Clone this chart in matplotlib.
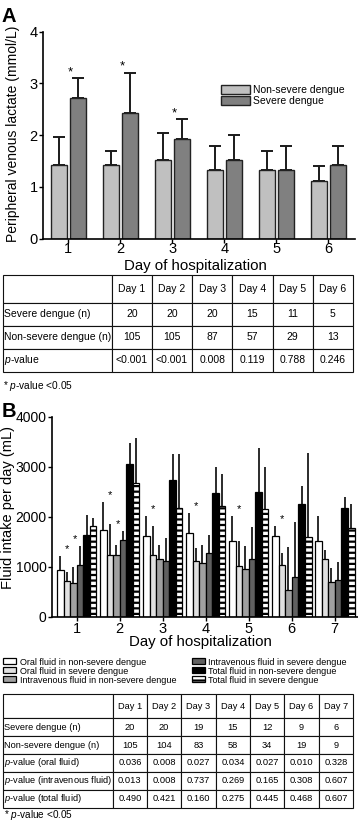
import matplotlib
matplotlib.use('Agg')
import matplotlib.pyplot as plt
import numpy as np

plt.rcParams['font.family'] = ['Liberation Sans', 'DejaVu Sans']
plt.rcParams['mathtext.fontset'] = 'custom'
plt.rcParams['mathtext.rm'] = 'Liberation Sans'
plt.rcParams['mathtext.it'] = 'Liberation Sans:italic'
plt.rcParams['hatch.linewidth'] = 1.6

# ---- panel A data: peripheral venous lactate (mmol/L)
days_a = [1, 2, 3, 4, 5, 6]
lact_ns = [1.43, 1.43, 1.53, 1.32, 1.32, 1.12]
lact_ns_top = [1.97, 1.70, 2.05, 1.80, 1.70, 1.41]   # upper end of error bar
lact_s = [2.72, 2.42, 1.93, 1.52, 1.32, 1.43]
lact_s_top = [3.10, 3.21, 2.31, 2.00, 1.80, 1.80]
n_sev_a = ['20', '20', '20', '15', '11', '5']
n_nonsev_a = ['105', '105', '87', '57', '29', '13']
p_a = ['<0.001', '<0.001', '0.008', '0.119', '0.788', '0.246']

# ---- panel B data: fluid intake per day (mL)
days_b = [1, 2, 3, 4, 5, 6, 7]
oral_ns = [930, 1730, 1610, 1680, 1520, 1610, 1510]
oral_ns_top = [1220, 2290, 2010, 2080, 2010, 1810, 2010]
oral_s = [710, 1230, 1230, 1120, 1010, 1030, 1150]
oral_s_top = [890, 1850, 1810, 1370, 1510, 1280, 1330]
iv_ns = [670, 1230, 1150, 1070, 960, 530, 690]
iv_ns_top = [1000, 1430, 1430, 1430, 1410, 1400, 970]
iv_s = [1030, 1530, 1120, 1270, 1160, 790, 730]
iv_s_top = [1410, 1720, 1570, 1630, 1800, 1900, 1100]
tot_ns = [1630, 3050, 2730, 2480, 2500, 2250, 2170]
tot_ns_top = [2030, 3470, 3260, 3000, 3370, 2610, 2390]
tot_s = [1810, 2670, 2170, 2220, 2150, 1590, 1780]
tot_s_top = [1970, 3580, 3260, 2850, 2990, 3280, 2250]
n_sev_b = ['20', '20', '19', '15', '12', '9', '6']
n_nonsev_b = ['105', '104', '83', '58', '34', '19', '9']
p_oral = ['0.036', '0.008', '0.027', '0.034', '0.027', '0.010', '0.328']
p_iv = ['0.013', '0.008', '0.737', '0.269', '0.165', '0.308', '0.607']
p_total = ['0.490', '0.421', '0.160', '0.275', '0.445', '0.468', '0.607']


def pnum(s):
    return float(s.lstrip('<'))


fig = plt.figure(figsize=(3.58, 8.21), dpi=100)
W, H = 358, 821


def px_rect(x0, y0, x1, y1):
    return [x0 / W, 1 - y1 / H, (x1 - x0) / W, (y1 - y0) / H]


# ================= panel A =================
ax = fig.add_axes(px_rect(42.7, 31.7, 355, 238.7))
xa = np.array(days_a)
bw = 0.308
off = 0.186
err_kw = dict(fmt='none', ecolor='#1a1a1a', elinewidth=1.4, capsize=4.5, capthick=1.4)
ax.bar(xa - off, lact_ns, bw, color='#c0c0c0', edgecolor='#222222', linewidth=1,
       label='Non-severe dengue', zorder=2)
ax.bar(xa + off, lact_s, bw, color='#808080', edgecolor='#222222', linewidth=1,
       label='Severe dengue', zorder=2)
ax.errorbar(xa - off, lact_ns, yerr=[np.zeros(6), np.array(lact_ns_top) - lact_ns], zorder=1, **err_kw)
ax.errorbar(xa + off, lact_s, yerr=[np.zeros(6), np.array(lact_s_top) - lact_s], zorder=1, **err_kw)
for d, p, top in zip(days_a, p_a, lact_s_top):
    if pnum(p) < 0.05:
        ax.text(d + 0.045, top + 0.052, '*', ha='center', va='baseline', fontsize=9.5)

ax.set_xlim(0.508, 6.513)
ax.set_ylim(0, 4)
ax.set_yticks([0, 1, 2, 3, 4])
ax.set_xticks(days_a)
for s in ['top', 'right']:
    ax.spines[s].set_visible(False)
for s in ['left', 'bottom']:
    ax.spines[s].set_linewidth(1.2)
ax.tick_params(axis='both', labelsize=10.5, length=3.2, width=1, pad=0.5)
ax.tick_params(axis='x', pad=-0.5)
ax.set_xlabel('Day of hospitalization', fontsize=10.8)
ax.set_ylabel('Peripheral venous lactate (mmol/L)', fontsize=10)
ax.xaxis.set_label_coords(0.489, -0.099)
ax.yaxis.set_label_coords(-0.0736, 0.505)
ax.legend(loc='upper left', bbox_to_anchor=(220.7 / W, 1 - 85.3 / H),
          bbox_transform=fig.transFigure, frameon=False, fontsize=7.5,
          borderpad=0, borderaxespad=0, handlelength=2.8, handleheight=0.9,
          handletextpad=0.3, labelspacing=0.05)

fig.text(1.7 / W, 1 - 21.7 / H, 'A', fontsize=14.5, fontweight='bold', va='baseline')
fig.text(1.7 / W, 1 - 416.7 / H, 'B', fontsize=14.5, fontweight='bold', va='baseline')


# ================= tables =================
def draw_table(rect, header, rows, fontsize, first_w, header_h):
    tax = fig.add_axes(rect)
    tax.axis('off')
    cells = [header] + rows
    ncol = len(header)
    widths = [first_w] + [(1 - first_w) / (ncol - 1)] * (ncol - 1)
    tbl = tax.table(cellText=cells, colWidths=widths, bbox=[0, 0, 1, 1], cellLoc='center')
    tbl.auto_set_font_size(False)
    tbl.set_fontsize(fontsize)
    body_h = (1 - header_h) / (len(cells) - 1)
    for (r, c), cell in tbl.get_celld().items():
        cell.set_height(header_h if r == 0 else body_h)
        cell.set_linewidth(0.8)
        cell.set_edgecolor('#111111')
        if c == 0:
            cell.set_text_props(ha='left')
            cell.PAD = 0.012
    return tbl


draw_table(px_rect(2.7, 275, 353, 371.7),
           [''] + ['Day %d' % d for d in days_a],
           [['Severe dengue (n)'] + n_sev_a,
            ['Non-severe dengue (n)'] + n_nonsev_a,
            ['$p$-value'] + p_a],
           7.5, 109 / 350.3, 0.29)
fig.text(2.7 / W, 1 - 386 / H, '* $p$-value <0.05', fontsize=7.3, va='center')

draw_table(px_rect(2.7, 694, 353, 807.5),
           [''] + ['Day %d' % d for d in days_b],
           [['Severe dengue (n)'] + n_sev_b,
            ['Non-severe dengue (n)'] + n_nonsev_b,
            ['$p$-value (oral fluid)'] + p_oral,
            ['$p$-value (intravenous fluid)'] + p_iv,
            ['$p$-value (total fluid)'] + p_total],
           6.7, 110 / 350.3, 0.215)
fig.text(4 / W, 1 - 817.5 / H, '* $p$-value <0.05', fontsize=7.2, va='baseline')

# ================= panel B =================
bx = fig.add_axes(px_rect(51.7, 416.7, 358, 616.7))
xb = np.array(days_b, dtype=float)
w = 0.153
series = [
    (oral_ns, oral_ns_top, 'white', None, 'Oral fluid in non-severe dengue'),
    (oral_s, oral_s_top, '#e0e0e0', None, 'Oral fluid in severe dengue'),
    (iv_ns, iv_ns_top, '#a0a0a0', None, 'Intravenous fluid in non-severe dengue'),
    (iv_s, iv_s_top, '#606060', None, 'Intravenous fluid in severe dengue'),
    (tot_ns, tot_ns_top, 'black', None, 'Total fluid in non-severe dengue'),
    (tot_s, tot_s_top, 'white', '---', 'Total fluid in severe dengue'),
]
handles = []
for i, (vals, tops, col, hatch, lab) in enumerate(series):
    pos = xb + (i - 2.5) * w
    h = bx.bar(pos, vals, w, color=col, edgecolor='black', linewidth=0.9,
               hatch=hatch, label=lab, zorder=2)
    handles.append(h)
    bx.errorbar(pos, vals, yerr=[np.zeros(len(vals)), np.array(tops) - np.array(vals)],
                fmt='none', ecolor='#1a1a1a', elinewidth=1.3, capsize=0, zorder=1)

for i, d in enumerate(days_b):
    if pnum(p_oral[i]) < 0.05:
        top = max(oral_ns_top[i], oral_s_top[i])
        bx.text(d - 1.55 * w, top + 75, '*', ha='center', va='baseline', fontsize=8)
    if pnum(p_iv[i]) < 0.05:
        top = max(iv_ns_top[i], iv_s_top[i])
        bx.text(d - 0.2 * w, top + 75, '*', ha='center', va='baseline', fontsize=8)

bx.set_xlim(0.419, 7.54)
bx.set_ylim(0, 4000)
bx.set_yticks([0, 1000, 2000, 3000, 4000])
bx.set_xticks(days_b)
for s in ['top', 'right']:
    bx.spines[s].set_visible(False)
for s in ['left', 'bottom']:
    bx.spines[s].set_linewidth(1.2)
bx.tick_params(axis='both', labelsize=10.5, length=3.2, width=1, pad=0.5)
bx.tick_params(axis='y', labelsize=10)
bx.tick_params(axis='x', pad=0.5)
bx.set_xlabel('Day of hospitalization', fontsize=10.8)
bx.set_ylabel('Fluid intake per day (mL)', fontsize=10.5)
bx.xaxis.set_label_coords(0.484, -0.0905)
bx.yaxis.set_label_coords(-0.12, 0.546)

leg_kw = dict(loc='upper left', bbox_transform=fig.transFigure, frameon=False,
              fontsize=6.5, borderpad=0, borderaxespad=0, handlelength=1.45,
              handleheight=0.6, handletextpad=0.35, labelspacing=0.0)
l1 = fig.legend(handles[:3], [s[4] for s in series[:3]],
                bbox_to_anchor=(3.3 / W, 1 - 657.5 / H), **leg_kw)
l2 = fig.legend(handles[3:], [s[4] for s in series[3:]],
                bbox_to_anchor=(191.7 / W, 1 - 657.5 / H), **leg_kw)

fig.savefig('out.png', dpi=100)
